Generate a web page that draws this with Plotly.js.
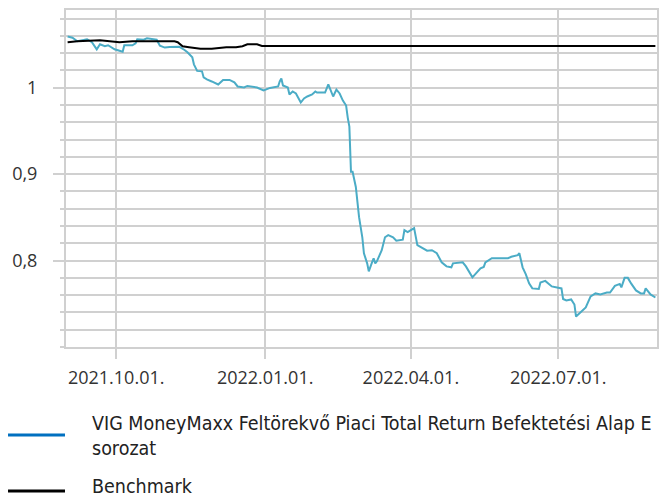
<!DOCTYPE html>
<html>
<head>
<meta charset="utf-8">
<script src="https://cdn.plot.ly/plotly-3.0.1.min.js"></script>
<style>html,body{margin:0;padding:0;background:#fff;}#chart{width:664px;height:498px;}</style>
</head>
<body>
<div id="chart"></div>
<script>
// Fund series (VIG MoneyMaxx Feltörekvő Piaci Total Return, E sorozat)
const fundDates = [
 "2021-09-01","2021-09-04","2021-09-07","2021-09-13","2021-09-16","2021-09-19","2021-09-21","2021-09-24","2021-09-26","2021-09-28",
 "2021-09-30","2021-10-03","2021-10-05","2021-10-06","2021-10-11","2021-10-13","2021-10-14","2021-10-18","2021-10-20","2021-10-24",
 "2021-10-26","2021-10-28","2021-10-31","2021-11-03","2021-11-06","2021-11-09","2021-11-12","2021-11-14","2021-11-17","2021-11-18",
 "2021-11-20","2021-11-23","2021-11-24","2021-11-26","2021-11-29","2021-12-03","2021-12-06","2021-12-10","2021-12-13","2021-12-15",
 "2021-12-19","2021-12-21","2021-12-27","2021-12-31","2022-01-04","2022-01-07","2022-01-09","2022-01-10","2022-01-11","2022-01-12",
 "2022-01-15","2022-01-16","2022-01-18","2022-01-20","2022-01-23","2022-01-25","2022-01-27","2022-01-30","2022-02-01","2022-02-02",
 "2022-02-07","2022-02-09","2022-02-11","2022-02-12","2022-02-14","2022-02-16","2022-02-18","2022-02-20","2022-02-21","2022-02-22",
 "2022-02-23","2022-02-24","2022-02-26","2022-02-27","2022-02-28","2022-03-02","2022-03-03","2022-03-05","2022-03-06","2022-03-08",
 "2022-03-09","2022-03-10","2022-03-11","2022-03-14","2022-03-16","2022-03-18","2022-03-21","2022-03-23","2022-03-27","2022-03-28",
 "2022-03-30","2022-04-02","2022-04-03","2022-04-05","2022-04-07","2022-04-09","2022-04-11","2022-04-14","2022-04-17","2022-04-20",
 "2022-04-23","2022-04-26","2022-04-27","2022-05-03","2022-05-05","2022-05-09","2022-05-11","2022-05-14","2022-05-16","2022-05-17",
 "2022-05-21","2022-05-24","2022-05-31","2022-06-02","2022-06-06","2022-06-07","2022-06-09","2022-06-11","2022-06-13","2022-06-15",
 "2022-06-19","2022-06-20","2022-06-23","2022-06-27","2022-06-30","2022-07-03","2022-07-04","2022-07-06","2022-07-09","2022-07-11",
 "2022-07-12","2022-07-15","2022-07-18","2022-07-21","2022-07-24","2022-07-27","2022-07-31","2022-08-02","2022-08-05","2022-08-08",
 "2022-08-09","2022-08-11","2022-08-13","2022-08-15","2022-08-18","2022-08-21","2022-08-23","2022-08-24","2022-08-27","2022-08-30"
];
const fundValues = [
 1.0593,1.0579,1.0538,1.0562,1.0527,1.0445,1.0503,1.0480,1.0492,1.0463,
 1.0445,1.0428,1.0416,1.0492,1.0492,1.0515,1.0562,1.0556,1.0573,1.0562,
 1.0556,1.0486,1.0465,1.0472,1.0469,1.0474,1.0440,1.0410,1.0352,1.0271,
 1.0195,1.0190,1.0120,1.0097,1.0073,1.0038,1.0091,1.0091,1.0062,1.0015,
 1.0003,1.0021,1.0003,0.9969,0.9998,1.0009,1.0015,1.0073,1.0108,1.0027,
 1.0003,0.9922,0.9957,0.9934,0.9829,0.9876,0.9899,0.9922,0.9957,0.9945,
 0.9945,1.0038,0.9957,0.9899,0.9980,0.9934,0.9852,0.9794,0.9655,0.9550,
 0.9027,0.9027,0.8852,0.8666,0.8503,0.8270,0.8084,0.7968,0.7875,0.7980,
 0.8027,0.7968,0.7992,0.8120,0.8270,0.8294,0.8270,0.8230,0.8242,0.8352,
 0.8329,0.8364,0.8376,0.8178,0.8155,0.8137,0.8114,0.8120,0.8085,0.7980,
 0.7933,0.7922,0.7968,0.7980,0.7933,0.7806,0.7852,0.7910,0.7927,0.7980,
 0.8027,0.8027,0.8027,0.8044,0.8062,0.8085,0.7922,0.7840,0.7736,0.7678,
 0.7672,0.7747,0.7765,0.7701,0.7690,0.7678,0.7556,0.7538,0.7550,0.7492,
 0.7352,0.7405,0.7457,0.7585,0.7620,0.7608,0.7631,0.7631,0.7707,0.7730,
 0.7690,0.7800,0.7800,0.7736,0.7655,0.7620,0.7620,0.7678,0.7608,0.7573
];
// Benchmark
const benchDates = [
 "2021-09-01","2021-09-07","2021-09-21","2021-09-29","2021-10-03","2021-10-11","2021-10-20","2021-11-06","2021-11-08","2021-11-11",
 "2021-11-15","2021-11-22","2021-11-29","2021-12-08","2021-12-14","2021-12-18","2021-12-21","2021-12-27","2021-12-30","2022-02-15",
 "2022-05-01","2022-07-01","2022-08-30"
];
const benchValues = [
 1.0527,1.0538,1.0550,1.0538,1.0527,1.0538,1.0538,1.0538,1.0527,1.0480,
 1.0469,1.0451,1.0451,1.0469,1.0469,1.0480,1.0503,1.0503,1.0484,1.0484,
 1.0484,1.0484,1.0484
];
const seriesNames = ["VIG MoneyMaxx Feltörekvő Piaci Total Return Befektetési Alap E<br>sorozat", "Benchmark"];
const yTickVals = [0.8, 0.9, 1.0];
const xTickVals = ["2021-10-01","2022-01-01","2022-04-01","2022-07-01"];

const grid = "#d0d0d0";
const tickFont = {family: "Open Sans, Noto Sans, sans-serif", size: 18, color: "#333333"};
const legFont = {family: "Liberation Sans Narrow, DejaVu Sans Condensed, Roboto, sans-serif", size: 19.5, color: "#222222"};

const traces = [
 {x: fundDates, y: fundValues, type: "scatter", mode: "lines", line: {color: "#4bacc6", width: 2}, hoverinfo: "skip", showlegend: false},
 {x: benchDates, y: benchValues, type: "scatter", mode: "lines", line: {color: "#000000", width: 2}, hoverinfo: "skip", showlegend: false}
];

const layout = {
 width: 664, height: 498,
 margin: {l: 66, r: 7, t: 10, b: 151},
 paper_bgcolor: "#ffffff", plot_bgcolor: "#ffffff",
 separators: ", ",
 showlegend: false,
 xaxis: {
  type: "date", range: ["2021-08-31", "2022-08-31"],
  tickmode: "array", tickvals: xTickVals, tickformat: "%Y.%m.%d.",
  ticks: "outside", ticklen: 10, tickwidth: 2, tickcolor: grid,
  showgrid: true, gridcolor: grid, gridwidth: 2,
  showline: true, linecolor: grid, linewidth: 2, mirror: true,
  tickfont: tickFont, ticklabelstandoff: 3, zeroline: false
 },
 yaxis: {
  range: [0.7, 1.09],
  tickmode: "array", tickvals: yTickVals, tickformat: "",
  ticks: "outside", ticklen: 11, tickwidth: 2, tickcolor: grid,
  showgrid: true, gridcolor: grid, gridwidth: 2,
  minor: {tick0: 0, dtick: 0.02, showgrid: true, gridcolor: grid, gridwidth: 2, ticks: "outside", ticklen: 4, tickwidth: 2, tickcolor: grid},
  showline: true, linecolor: grid, linewidth: 2, mirror: true,
  tickfont: tickFont, ticklabelstandoff: 12, zeroline: false
 },
 shapes: [
  {type: "line", xref: "paper", yref: "paper", x0: -0.0981, x1: -0.0017, y0: -0.2614, y1: -0.2614, line: {color: "#0070c0", width: 3}},
  {type: "line", xref: "paper", yref: "paper", x0: -0.0981, x1: -0.0017, y0: -0.4276, y1: -0.4276, line: {color: "#000000", width: 3}}
 ],
 annotations: [
  {xref: "paper", yref: "paper", x: 0.0406, y: -0.2641, xanchor: "left", yanchor: "middle", align: "left", text: seriesNames[0], showarrow: false, font: legFont},
  {xref: "paper", yref: "paper", x: 0.0406, y: -0.4154, xanchor: "left", yanchor: "middle", align: "left", text: seriesNames[1], showarrow: false, font: legFont}
 ]
};

Plotly.newPlot("chart", traces, layout, {staticPlot: true, displayModeBar: false});
</script>
</body>
</html>
